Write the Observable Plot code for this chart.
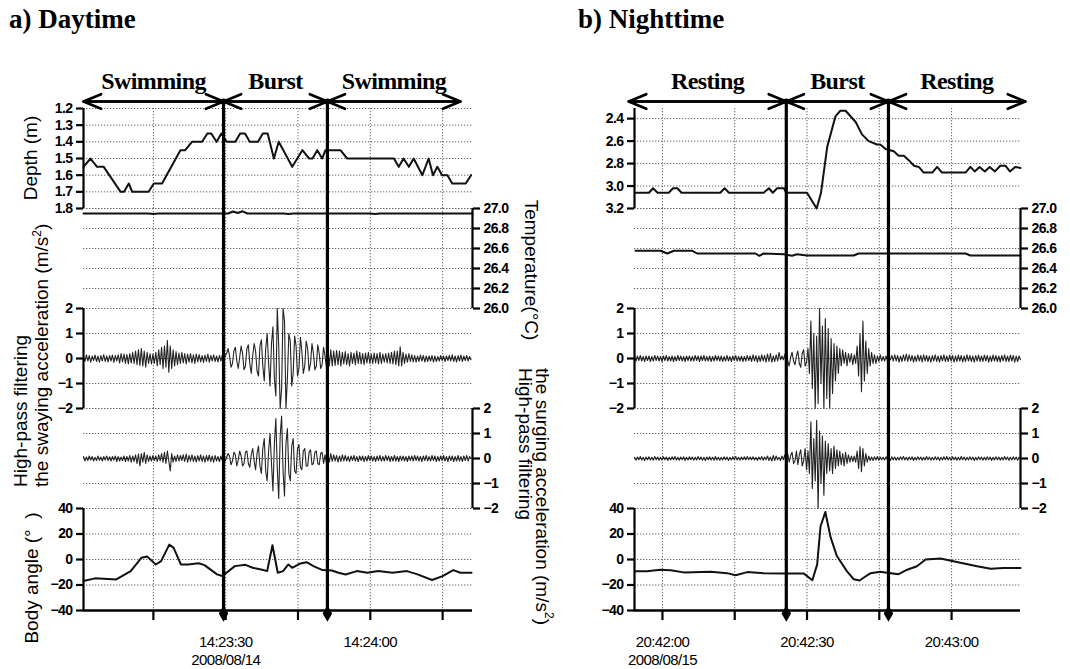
<!DOCTYPE html>
<html>
<head>
<meta charset="utf-8">
<script src="https://cdn.jsdelivr.net/npm/d3@7"></script>
<script src="https://cdn.jsdelivr.net/npm/@observablehq/plot@0.6"></script>
<style>
  html,body{margin:0;padding:0;background:#fff;}
  #chart{position:relative;width:1070px;height:669px;overflow:hidden;background:#fff;font-family:"Liberation Sans",Arial,sans-serif;color:#000;}
  .title{position:absolute;font-family:"Liberation Serif","Times New Roman",serif;font-weight:bold;font-size:27px;white-space:nowrap;line-height:1;}
  .ylab{position:absolute;font-size:19px;white-space:nowrap;line-height:17px;}
  .center-up{transform:translate(-50%,-50%) rotate(-90deg);}
  .center-down{transform:translate(-50%,-50%) rotate(90deg);}
  .start-up{transform-origin:0 0;transform:rotate(-90deg);}
  .vert{writing-mode:vertical-lr;}
</style>
</head>
<body>
<div id="chart"></div>
<script>
// ================= DATA =================
// Panel a) Daytime — times in seconds after 14:23:00 on 2008/08/14
const dayRef = "2008-08-14T14:23:00Z";
const dayXRange = [0.5, 81.2];
const dayTickSec = [15, 30, 45, 60, 75];
const dayTickLabels = ["", "14:23:30\n2008/08/14", "", "14:24:00", ""];
const dayPhases = ["Swimming", "Burst", "Swimming"];
const dayPhaseStart = [0.5, 29.55, 51.1];
const dayPhaseEnd = [29.55, 51.1, 78.7];
const dayBurstEdges = [29.55, 51.1];

const dayDepthSec = [0.5,1.95,3.3,4.7,8.2,8.9,9.9,10.6,14.0,15.1,16.8,20.6,21.6,23.0,25.1,26.2,27.0,28.1,29.1,30.2,32.0,33.0,34.0,35.0,36.7,37.7,38.7,40.0,41.0,43.8,45.9,47.3,48.0,49.0,50.0,50.7,53.8,55.2,64.9,65.9,66.9,68.0,69.0,70.8,72.1,73.0,73.9,74.9,76.0,77.0,79.8,80.9];
const dayDepth = [1.55,1.5,1.55,1.55,1.7,1.7,1.65,1.7,1.7,1.65,1.65,1.45,1.45,1.4,1.4,1.35,1.35,1.4,1.35,1.4,1.4,1.35,1.35,1.4,1.4,1.35,1.35,1.5,1.4,1.55,1.45,1.5,1.5,1.45,1.5,1.45,1.45,1.5,1.5,1.55,1.5,1.55,1.5,1.6,1.5,1.6,1.55,1.6,1.6,1.65,1.65,1.6];

const dayTempSec = [0.5,14,15,16,30.5,31.5,32.5,33.5,34.5,35.5,42,43,44,60,61,62,81.2];
const dayTemp = [26.95,26.95,26.945,26.95,26.95,26.97,26.955,26.972,26.95,26.95,26.95,26.945,26.95,26.95,26.945,26.95,26.95];

const accelStep = 0.3;           // sampling interval of the acceleration records (s)
const dayAccelStart = 0.5;
const daySway = [
 0.05,-0.12,0.15,-0.1,0.12,-0.15,0.1,-0.08,0.14,-0.12,0.1,-0.15,0.12,-0.1,0.16,-0.12,0.1,-0.14,0.12,-0.1,
 0.14,-0.16,0.12,-0.1,0.15,-0.18,0.2,-0.14,0.18,-0.2,0.16,-0.22,0.2,-0.18,0.25,-0.2,0.3,-0.25,0.35,-0.28,
 0.4,-0.3,0.3,-0.35,0.25,-0.2,0.2,-0.22,0.18,-0.2,0.25,-0.3,0.35,-0.25,0.45,-0.4,0.5,-0.35,0.72,-0.55,
 0.5,-0.4,0.35,-0.3,0.28,-0.25,0.22,-0.2,0.25,-0.18,0.2,-0.22,0.18,-0.15,0.2,-0.18,0.15,-0.2,0.18,-0.14,
 0.16,-0.14,0.12,-0.16,0.14,-0.12,0.18,-0.15,0.12,-0.1,0.15,-0.12,0.1,-0.14,0.12,-0.1,0.15,-0.12,0.1,0.2,
 0.4,0.1,-0.35,-0.2,0.3,0.45,-0.1,-0.4,0.05,0.5,0.2,-0.45,-0.3,0.4,0.55,-0.2,-0.6,0.1,0.6,0.3,
 -0.5,-0.7,0.5,0.75,-0.3,-0.9,0.4,1.0,-0.2,-1.1,0.6,1.27,-0.8,-1.5,2.0,0.5,-2.0,-1.2,2.0,1.5,
 -2.0,-0.8,1.0,0.7,-1.1,-0.6,0.9,0.5,-0.7,-0.4,0.85,0.3,-0.6,-0.3,0.7,0.4,-0.5,-0.2,0.6,0.2,
 -0.45,-0.3,0.55,0.2,-0.4,-0.25,0.45,0.1,-0.35,0.4,-0.3,0.35,-0.3,0.3,-0.28,0.32,-0.25,0.3,-0.3,0.25,
 -0.22,0.28,-0.25,0.2,-0.3,0.25,-0.2,0.22,-0.25,0.3,-0.2,0.25,-0.22,0.2,-0.25,0.22,-0.18,0.25,-0.2,0.18,
 -0.2,0.22,-0.18,0.2,-0.22,0.25,-0.2,0.18,-0.15,0.2,-0.18,0.22,-0.2,0.25,-0.22,0.3,-0.25,0.3,-0.3,0.47,
 -0.3,0.25,-0.2,0.18,-0.15,0.2,-0.12,0.15,-0.14,0.12,-0.15,0.1,-0.12,0.14,-0.1,0.12,-0.14,0.1,-0.12,0.1,
 -0.1,0.12,-0.14,0.1,-0.12,0.08,-0.1,0.12,-0.08,0.1,-0.12,0.1,-0.08,0.12,-0.1,0.15,-0.12,0.1,-0.14,0.12,
 -0.1,0.14,-0.12,0.1,-0.08,0.12,-0.1,0.08,-0.05];
const daySurge = [
 0.08,-0.1,0.06,-0.08,0.1,-0.06,0.08,-0.1,0.05,-0.08,0.1,-0.07,0.06,-0.1,0.08,-0.06,0.1,-0.08,0.07,-0.1,
 0.08,-0.06,0.1,-0.12,0.08,-0.1,0.06,-0.08,0.1,-0.12,0.08,-0.1,0.12,-0.15,0.1,-0.12,0.15,-0.2,0.18,-0.3,
 0.2,-0.15,0.25,-0.2,0.15,-0.12,0.1,-0.1,0.12,-0.08,0.1,-0.12,0.15,-0.1,0.2,-0.15,0.25,-0.2,0.3,-0.1,
 -0.5,0.2,-0.15,0.1,-0.12,0.15,-0.1,0.12,-0.08,0.15,-0.12,0.18,-0.15,0.12,-0.1,0.15,-0.12,0.1,-0.14,0.12,
 -0.1,0.15,-0.12,0.1,-0.15,0.12,-0.1,0.14,-0.12,0.1,-0.15,0.12,-0.1,0.08,-0.12,0.1,-0.08,0.12,-0.1,0.05,
 0.2,0.1,-0.25,-0.1,0.25,0.15,-0.3,-0.05,0.3,0.1,-0.3,-0.2,0.25,0.3,-0.2,-0.35,0.15,0.4,-0.1,-0.45,
 0.2,0.5,-0.3,-0.6,0.4,0.8,-0.5,-0.9,0.3,1.0,-0.2,-1.3,0.6,1.6,-0.4,-1.6,0.9,1.7,-0.5,-1.5,
 0.6,1.2,-0.6,-0.9,0.5,0.8,-0.5,-0.6,0.4,0.55,-0.35,-0.45,0.3,0.4,-0.3,-0.3,0.25,0.35,-0.25,-0.2,
 0.25,0.3,-0.2,-0.25,0.2,0.25,-0.2,0.15,-0.2,0.18,-0.15,0.2,-0.12,0.15,-0.1,0.12,-0.15,0.1,-0.12,0.15,
 -0.1,0.12,-0.1,0.08,-0.12,0.1,-0.08,0.12,-0.1,0.08,-0.12,0.1,-0.08,0.1,-0.12,0.08,-0.1,0.12,-0.08,0.1,
 -0.1,0.08,-0.12,0.1,-0.08,0.12,-0.1,0.08,-0.1,0.12,-0.08,0.1,-0.12,0.08,-0.1,0.12,-0.1,0.08,-0.12,0.1,
 -0.08,0.1,-0.1,0.08,-0.12,0.1,-0.08,0.1,-0.1,0.12,-0.08,0.1,-0.1,0.08,-0.12,0.1,-0.08,0.12,-0.1,0.08,
 -0.1,0.12,-0.08,0.1,-0.12,0.08,-0.1,0.1,-0.08,0.12,-0.1,0.08,-0.12,0.1,-0.08,0.1,-0.12,0.08,-0.1,0.12,
 -0.1,0.08,-0.12,0.1,-0.08,0.12,-0.1,0.08,0.0];

const dayAngleSec = [0.5,2.9,7.3,10.3,12.5,13.7,15.5,16.6,18.3,19.2,20.7,22.2,24.4,25.6,28.2,29.3,31.9,34.1,35.6,37.8,38.6,39.7,40.8,41.9,43.0,43.8,45.3,46.8,48.2,50.1,52.0,53.4,54.9,57.2,59.4,61.6,64.6,67.6,69.8,72.8,75.0,77.2,78.7,81.0];
const dayAngle = [-16.9,-14.8,-15.6,-9.1,1.3,2.3,-3.9,-1.3,11.7,9.1,-3.9,-3.9,-2.9,-4.4,-11.7,-13,-5.2,-4.2,-6.5,-8.3,-9.1,11.2,-10.4,-9.1,-3.9,-6.5,-3.4,-2.1,-5.2,-8.3,-8.6,-10.4,-11.7,-9.1,-10.4,-9.1,-10.4,-9.1,-11.7,-16.1,-13,-8.3,-10.4,-10.4];

// Panel b) Nighttime — times in seconds after 20:42:00 on 2008/08/15
const nightRef = "2008-08-15T20:42:00Z";
const nightXRange = [-5.8, 74.3];
const nightTickSec = [0, 15, 30, 45, 60];
const nightTickLabels = ["20:42:00\n2008/08/15", "", "20:42:30", "", "20:43:00"];
const nightPhases = ["Resting", "Burst", "Resting"];
const nightPhaseStart = [-7.0, 25.7, 46.9];
const nightPhaseEnd = [25.7, 46.9, 75.3];
const nightBurstEdges = [25.7, 46.9];

const nightDepthSec = [-5.6,-2.8,-1.95,-1.0,1.3,2.2,3.1,3.95,12.0,12.9,13.8,21.0,22.1,22.9,23.8,25.2,25.7,30.0,32.0,32.9,34.2,35.9,36.9,38.0,40.1,41.4,42.8,44.5,45.2,46.3,48.0,49.0,50.1,51.1,52.2,53.2,54.2,56.0,57.0,58.0,62.9,63.9,64.8,65.8,66.9,67.9,69.0,70.1,71.2,72.1,73.2,74.3];
const nightDepth = [3.06,3.06,3.02,3.06,3.06,3.02,3.02,3.06,3.06,3.02,3.06,3.06,3.02,3.06,3.02,3.02,3.06,3.06,3.2,3.06,2.65,2.38,2.33,2.33,2.43,2.54,2.60,2.63,2.63,2.67,2.69,2.73,2.73,2.77,2.82,2.83,2.88,2.88,2.83,2.88,2.88,2.83,2.87,2.83,2.87,2.83,2.87,2.82,2.82,2.87,2.83,2.84];

const nightTempSec = [-5.6,-0.4,1.0,2.4,6.2,7.2,19.3,20.1,21.0,25.2,26.9,27.9,30.0,39.7,40.7,62.9,63.9,74.3];
const nightTemp = [26.577,26.577,26.55,26.577,26.577,26.55,26.55,26.527,26.55,26.543,26.527,26.543,26.53,26.53,26.55,26.55,26.53,26.53];

const nightAccelStart = -5.8;
const nightSway = [
 0.08,-0.1,0.1,-0.08,0.12,-0.1,0.08,-0.12,0.1,-0.08,0.1,-0.12,0.08,-0.1,0.12,-0.08,0.1,-0.1,0.08,-0.12,
 0.1,-0.08,0.12,-0.1,0.08,-0.1,0.1,-0.12,0.08,-0.1,0.12,-0.08,0.1,-0.1,0.08,-0.12,0.1,-0.08,0.1,-0.1,
 0.08,-0.1,0.12,-0.08,0.1,-0.12,0.1,-0.08,0.12,-0.1,0.08,-0.1,0.1,-0.12,0.08,-0.1,0.12,-0.08,0.1,-0.1,
 0.1,-0.12,0.08,-0.1,0.12,-0.1,0.08,-0.12,0.1,-0.08,0.12,-0.1,0.08,-0.1,0.1,-0.12,0.08,-0.1,0.12,-0.08,
 0.1,-0.12,0.15,-0.1,0.12,-0.15,0.1,-0.12,0.15,-0.1,0.12,-0.15,0.18,-0.12,0.2,-0.15,0.1,-0.12,0.15,-0.1,
 0.25,-0.05,0.1,-0.05,0.15,0.3,-0.1,-0.3,0.05,0.25,-0.1,-0.25,0.1,0.3,-0.2,-0.35,0.2,0.35,-0.3,-0.15,
 0.4,-0.6,1.5,-1.2,1.0,-2.0,0.9,-1.8,2.0,-1.0,1.3,-2.0,1.6,-1.6,1.2,-2.0,0.8,-1.4,0.6,-0.9,
 0.5,-0.6,0.4,-0.3,0.35,-0.2,0.25,-0.3,0.2,-0.15,0.2,-0.25,0.15,-0.2,0.5,-0.7,1.0,-1.33,1.5,-0.9,
 0.7,-0.6,0.4,-0.3,0.25,-0.2,0.15,-0.2,0.1,-0.12,0.15,-0.1,0.08,-0.1,0.1,-0.08,0.05,-0.05,0.12,-0.1,
 0.15,-0.1,0.12,-0.15,0.1,-0.12,0.15,-0.1,0.18,-0.12,0.15,-0.1,0.12,-0.15,0.1,-0.12,0.15,-0.1,0.12,-0.14,
 0.15,-0.1,0.12,-0.12,0.1,-0.15,0.12,-0.1,0.15,-0.12,0.1,-0.14,0.12,-0.1,0.15,-0.12,0.1,-0.12,0.14,-0.1,
 0.12,-0.15,0.1,-0.12,0.14,-0.1,0.12,-0.14,0.1,-0.12,0.15,-0.1,0.12,-0.12,0.1,-0.15,0.12,-0.1,0.14,-0.12,
 0.1,-0.12,0.14,-0.1,0.12,-0.15,0.1,-0.12,0.14,-0.1,0.12,-0.12,0.1,-0.14,0.12,-0.1,0.15,-0.12,0.1,-0.12,
 0.14,-0.1,0.12,-0.15,0.1,-0.12,0.1,-0.05];
const nightSurge = [
 0.05,-0.07,0.06,-0.05,0.08,-0.06,0.05,-0.08,0.06,-0.05,0.07,-0.06,0.05,-0.07,0.08,-0.05,0.06,-0.07,0.05,-0.06,
 0.07,-0.05,0.06,-0.08,0.05,-0.06,0.07,-0.05,0.08,-0.06,0.05,-0.07,0.06,-0.05,0.07,-0.08,0.05,-0.06,0.07,-0.05,
 0.06,-0.07,0.05,-0.06,0.08,-0.05,0.06,-0.07,0.05,-0.08,0.06,-0.05,0.07,-0.06,0.05,-0.07,0.08,-0.06,0.05,-0.07,
 0.05,-0.06,0.07,-0.05,0.06,-0.08,0.05,-0.06,0.07,-0.05,0.08,-0.06,0.05,-0.07,0.06,-0.05,0.07,-0.06,0.08,-0.05,
 0.06,-0.05,0.07,-0.06,0.05,-0.08,0.06,-0.05,0.08,-0.07,0.06,-0.05,0.1,-0.08,0.06,-0.1,0.12,-0.08,0.1,-0.05,
 0.05,-0.08,0.1,-0.05,0.15,-0.1,0.2,-0.15,0.12,0.25,-0.2,-0.1,0.3,-0.25,0.15,0.35,-0.3,-0.1,0.4,-0.45,
 0.3,-0.6,1.47,-1.2,0.8,-0.9,1.53,-2.0,1.1,-1.0,0.9,-1.47,0.7,-0.6,0.6,-0.5,0.4,-0.6,0.5,-0.4,
 0.35,-0.3,0.3,-0.25,0.2,-0.3,0.25,-0.2,0.15,-0.15,0.1,-0.12,0.1,-0.15,0.3,-0.4,0.47,-0.53,0.4,-0.3,
 0.2,-0.15,0.1,-0.08,0.06,-0.08,0.07,-0.06,0.08,-0.07,0.06,-0.05,0.05,-0.06,0.07,-0.05,0.06,-0.08,0.07,-0.06,
 0.06,-0.07,0.05,-0.06,0.07,-0.05,0.08,-0.06,0.05,-0.07,0.06,-0.05,0.07,-0.08,0.05,-0.06,0.07,-0.05,0.06,-0.07,
 0.05,-0.06,0.08,-0.05,0.06,-0.07,0.05,-0.06,0.07,-0.05,0.06,-0.08,0.05,-0.06,0.07,-0.05,0.08,-0.06,0.05,-0.07,
 0.07,-0.05,0.06,-0.07,0.05,-0.06,0.08,-0.05,0.06,-0.07,0.05,-0.06,0.07,-0.05,0.06,-0.08,0.05,-0.06,0.07,-0.05,
 0.06,-0.07,0.05,-0.06,0.07,-0.05,0.06,-0.08,0.05,-0.06,0.07,-0.05,0.06,-0.07,0.05,-0.06,0.08,-0.05,0.06,-0.07,
 0.05,-0.06,0.07,-0.05,0.06,-0.07,0.05,0.0];

const nightAngleSec = [-5.6,-3.2,-0.4,1.7,4.4,10.0,13.4,15.2,17.6,21.0,25.2,29.3,31.1,32.1,32.8,33.8,34.9,36.2,38.3,39.7,40.9,41.8,43.2,45.2,46.6,49.0,50.8,52.8,54.6,57.7,61.1,65.3,68.1,70.8,74.3];
const nightAngle = [-9.3,-9.3,-8,-8.5,-10.1,-9.6,-10.7,-12.3,-9.9,-10.7,-10.9,-10.9,-16.3,-4,25.9,37.3,17.3,2.7,-9.3,-15.5,-16.5,-14.1,-10.7,-9.6,-10.4,-11.5,-8,-5.3,0,0.8,-1.9,-5.3,-7.2,-6.7,-6.7];

// axis ticks / domains
const dayDepthTicks = [1.2,1.3,1.4,1.5,1.6,1.7,1.8];
const dayDepthDomain = [1.8, 1.2];
const nightDepthTicks = [2.4,2.6,2.8,3.0,3.2];
const nightDepthDomain = [3.2, 2.31];
const tempTicks = [26.0,26.2,26.4,26.6,26.8,27.0];
const tempDomain = [26, 27];
const accelTicks = [-2,-1,0,1,2];
const accelDomain = [-2, 2];
const angleTicks = [-40,-20,0,20,40];
const angleDomain = [-40, 40];

// ================= DRAWING =================
const chart = document.getElementById("chart");
const rows = {depth:[108,208], temp:[208,308], sway:[308,408], surge:[408,508], angle:[508,610]};
const at = (ref, s) => new Date(Date.parse(ref) + s * 1000);
const series = (ref, secs, vals) => secs.map((s, i) => ({t: at(ref, s), v: vals[i]}));
const sampled = (ref, start, vals) => vals.map((v, i) => ({t: at(ref, start + i * accelStep), v}));
const tickFont = "'Liberation Sans',Arial,sans-serif";
const f1 = d3.format(".1f"), f0 = d3.format("d");
const gridStyle = {stroke: "#666", strokeOpacity: 1, strokeWidth: 1, strokeDasharray: "1.3,1.7"};

function addTrack(P, rowKey, cfg) {
  const [top, bottom] = rows[rowKey];
  const mt = cfg.mt || 0, mb = cfg.mb || 0;
  const edge = cfg.side === "left" ? P.xDomain[0] : P.xDomain[1];
  const marks = [
    Plot.gridY(cfg.ticks, gridStyle),
    Plot.gridX(P.tickDates, gridStyle),
    ...cfg.lines.map(L => Plot.line(L.data, {x: "t", y: "v", stroke: L.c || "#111", strokeWidth: L.w})),
    Plot.ruleX(P.bursts, {strokeWidth: 3.2, stroke: "#000", insetTop: cfg.burstTop || 0}),
    Plot.ruleX([edge], {strokeWidth: 2.2, stroke: "#000"}),
    Plot.axisY(cfg.ticks, {anchor: cfg.side, tickSize: 7, tickPadding: 4, strokeWidth: 2.2, tickFormat: cfg.format, label: null,
      fontSize: 14, fontWeight: "bold"}),
    ...(cfg.extra || [])
  ];
  const svg = Plot.plot({
    width: P.width, height: bottom - top + mt + mb,
    marginLeft: P.ml, marginRight: P.mr, marginTop: mt, marginBottom: mb,
    x: cfg.xAxis ? {type: "utc", domain: P.xDomain} : {type: "utc", domain: P.xDomain, axis: null},
    y: {domain: cfg.domain},
    style: {background: "none", overflow: "visible", fontFamily: tickFont, fontSize: "15px", color: "#000", letterSpacing: "-0.6px"},
    marks
  });
  svg.style.position = "absolute";
  svg.style.left = P.left + "px";
  svg.style.top = (top - mt) + "px";
  chart.appendChild(svg);
}

function buildPanel(P) {
  P.xDomain = P.xRange.map(s => at(P.ref, s));
  P.tickDates = P.tickSec.map(s => at(P.ref, s));
  const labelMap = new Map(P.tickSec.map((s, i) => [+at(P.ref, s), P.tickLabels[i]]));
  P.bursts = P.burstSec.map(s => at(P.ref, s));
  const phases = P.phases.map((name, i) => ({
    name,
    start: at(P.ref, P.phaseStart[i]),
    end: at(P.ref, P.phaseEnd[i]),
    mid: at(P.ref, (P.phaseStart[i] + P.phaseEnd[i]) / 2)
  }));
  const topVal = P.depthDomain[1];
  const arrowOpts = {y1: () => topVal, y2: () => topVal, dy: -7, strokeWidth: 2.6, stroke: "#000", headLength: 11, headAngle: 45};

  addTrack(P, "depth", {
    mt: 58, side: "left", ticks: P.depthTicks, domain: P.depthDomain, format: f1, burstTop: -7,
    lines: [{data: series(P.ref, P.depthSec, P.depth), w: 2}],
    extra: [
      Plot.text(phases, {x: "mid", text: "name", frameAnchor: "top", lineAnchor: "middle", dy: -27,
        fontFamily: "'Liberation Serif','Times New Roman',serif", fontWeight: "bold", fontSize: 24, letterSpacing: "0px"}),
      Plot.arrow(phases, {x1: "start", x2: "end", ...arrowOpts}),
      Plot.arrow(phases, {x1: "end", x2: "start", ...arrowOpts}),
      Plot.dot(P.bursts, {x: d => d, y: () => topVal, dy: -7, r: 3, fill: "#000"})
    ]
  });
  addTrack(P, "temp", {side: "right", ticks: tempTicks, domain: tempDomain, format: f1,
    lines: [{data: series(P.ref, P.tempSec, P.temp), w: 2}]});
  addTrack(P, "sway", {side: "left", ticks: accelTicks, domain: accelDomain, format: f0,
    lines: [{data: sampled(P.ref, P.accelStart, P.sway), w: 1.1, c: "#222"}]});
  addTrack(P, "surge", {side: "right", ticks: accelTicks, domain: accelDomain, format: f0,
    lines: [{data: sampled(P.ref, P.accelStart, P.surge), w: 1.1, c: "#222"}]});
  addTrack(P, "angle", {
    mb: 59, side: "left", ticks: angleTicks, domain: angleDomain, format: f0, xAxis: true,
    lines: [{data: series(P.ref, P.angleSec, P.angle), w: 2}],
    extra: [
      Plot.ruleY([angleDomain[0]], {strokeWidth: 2.4, stroke: "#000"}),
      Plot.axisX(P.tickDates, {anchor: "bottom", tickSize: 10, tickPadding: 14, strokeWidth: 2.2, label: null,
        tickFormat: d => labelMap.get(+d), lineHeight: 1.2, fontSize: 15}),
      Plot.dot(P.bursts, {x: d => d, y: () => angleDomain[0], dy: 3, r: 5, symbol: "diamond", fill: "#000"})
    ]
  });
}

buildPanel({
  left: 0, width: 535, ml: 83, mr: 63,
  ref: dayRef, xRange: dayXRange, tickSec: dayTickSec, tickLabels: dayTickLabels,
  phases: dayPhases, phaseStart: dayPhaseStart, phaseEnd: dayPhaseEnd, burstSec: dayBurstEdges,
  depthSec: dayDepthSec, depth: dayDepth, depthTicks: dayDepthTicks, depthDomain: dayDepthDomain,
  tempSec: dayTempSec, temp: dayTemp,
  accelStart: dayAccelStart, sway: daySway, surge: daySurge,
  angleSec: dayAngleSec, angle: dayAngle
});
buildPanel({
  left: 535, width: 535, ml: 99, mr: 50,
  ref: nightRef, xRange: nightXRange, tickSec: nightTickSec, tickLabels: nightTickLabels,
  phases: nightPhases, phaseStart: nightPhaseStart, phaseEnd: nightPhaseEnd, burstSec: nightBurstEdges,
  depthSec: nightDepthSec, depth: nightDepth, depthTicks: nightDepthTicks, depthDomain: nightDepthDomain,
  tempSec: nightTempSec, temp: nightTemp,
  accelStart: nightAccelStart, sway: nightSway, surge: nightSurge,
  angleSec: nightAngleSec, angle: nightAngle
});

// ================= TEXT (titles, axis titles) =================
function addText(html, cls, css) {
  const d = document.createElement("div");
  d.className = cls;
  d.innerHTML = html;
  Object.assign(d.style, css);
  chart.appendChild(d);
}
addText("a) Daytime", "title", {left: "9px", top: "6px"});
addText("b) Nighttime", "title", {left: "578px", top: "6px"});
addText("Depth (m)", "ylab center-up", {left: "30px", top: "158px"});
addText("High-pass filtering<br>the swaying acceleration (m/s<sup style='font-size:12px'>2</sup>)", "ylab start-up", {left: "12px", top: "487px"});
addText("Body angle (°&nbsp;&nbsp;)", "ylab center-up", {left: "31px", top: "578px"});
addText("Temperature(°C)", "ylab center-down", {left: "531px", top: "270px"});
addText("High-pass filtering<br>the surging acceleration (m/s<sup style='font-size:12px'>2</sup>)", "ylab vert", {left: "517px", top: "368px"});
</script>
</body>
</html>
